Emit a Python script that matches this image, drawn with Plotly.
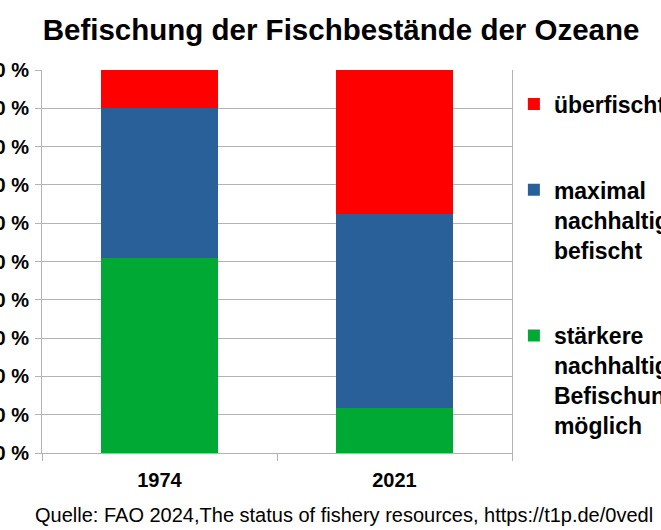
import plotly.graph_objects as go

# FAO status of fishery resources, share of stocks in percent
years = ["1974", "2021"]
series_names = [
    "stärkere<br>nachhaltige<br>Befischung<br>möglich",
    "maximal<br>nachhaltig<br>befischt",
    "überfischt",
]
underfished = [51, 11.8]
max_sustainable = [39, 50.5]
overfished = [10, 37.7]
y_ticks = [0, 10, 20, 30, 40, 50, 60, 70, 80, 90, 100]

colors = ["#00A933", "#2A6099", "#FF0000"]
grid_col = "#B3B3B3"

fig = go.Figure()
for rank, (name, vals, col) in enumerate(zip(series_names, [underfished, max_sustainable, overfished], colors)):
    fig.add_trace(go.Bar(x=years, y=vals, name="<b>" + name + "</b>", marker_color=col,
                         marker_line_width=0, width=0.5, legendgroup=str(rank),
                         legendrank=10 - rank))

fig.update_layout(
    barmode="stack",
    width=661, height=530,
    margin=dict(l=42, r=149, t=70, b=77, autoexpand=False),
    paper_bgcolor="white", plot_bgcolor="white",
    font=dict(family="Liberation Sans, Arial, sans-serif", color="black"),
    title=dict(text="<b>Befischung der Fischbestände der Ozeane</b>",
               x=0.516, xanchor="center", y=1 - 30 / 530, yanchor="middle",
               font=dict(size=29.5)),
    legend=dict(traceorder="grouped", tracegroupgap=53, valign="top",
                x=1.004, xanchor="left", y=0.9675, yanchor="top",
                font=dict(size=23, family="Liberation Sans, Arial, sans-serif"),
                bgcolor="rgba(0,0,0,0)"),
    showlegend=True,
)

fig.update_xaxes(range=[-0.5, 1.5], showline=True, linecolor=grid_col, linewidth=1,
                 ticks="outside", tickson="boundaries", ticklen=7, tickcolor=grid_col,
                 tickfont=dict(size=20), ticklabelstandoff=9, showgrid=False,
                 tickprefix="<b>", ticksuffix="</b>")
fig.update_yaxes(range=[0, 100], tickvals=y_ticks,
                 ticktext=["<b>%d %%</b>" % v for v in y_ticks],
                 showgrid=True, gridcolor=grid_col, gridwidth=1,
                 showline=True, linecolor=grid_col, mirror=True,
                 ticks="outside", ticklen=6, tickcolor=grid_col,
                 tickfont=dict(size=20), ticklabelstandoff=2, zeroline=False)

fig.add_annotation(text="Quelle: FAO 2024,The status of fishery resources, https://t1p.de/0vedl",
                   xref="paper", yref="paper", x=(344 - 42) / 470, y=(453 - 515) / 383,
                   xanchor="center", yanchor="middle", showarrow=False,
                   font=dict(size=20))

fig.write_html("out.html", config={"displayModeBar": False},
               post_script="document.body.style.margin='0';")
